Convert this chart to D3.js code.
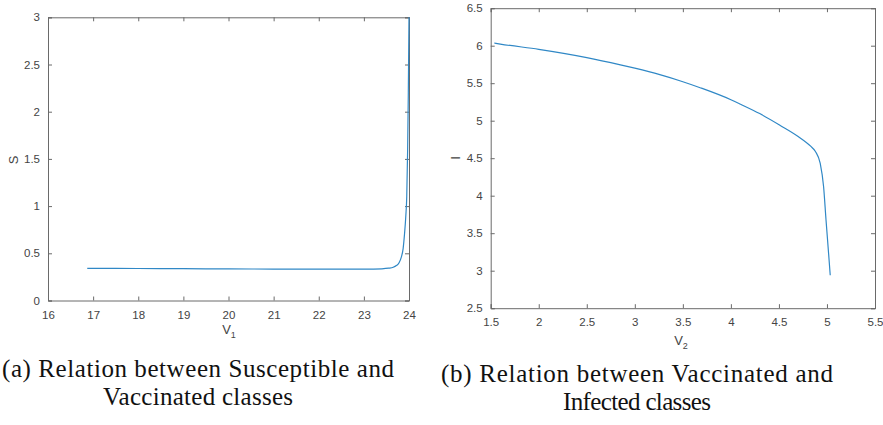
<!DOCTYPE html>
<html>
<head>
<meta charset="utf-8">
<script src="https://cdn.jsdelivr.net/npm/d3@7"></script>
<style>
  body { margin: 0; background: #fff; }
  .tick text { font-family: "Liberation Sans", Arial, sans-serif; font-size: 11.5px; fill: #444; }
  .axlabel { font-family: "Liberation Sans", Arial, sans-serif; font-size: 13px; fill: #444; }
  .caption { font-family: "Liberation Serif", "DejaVu Serif", serif; font-size: 25px; fill: #111; }
</style>
</head>
<body>
<div id="fig"></div>
<script>
// panel (a): S against V1
var v1 = [16.87, 17.5, 18, 19, 20, 21, 22, 23, 23.4, 23.55, 23.65, 23.72, 23.78, 23.83, 23.87, 23.9, 23.93, 23.95, 23.97, 23.985, 24.0];
var sVals = [0.341, 0.340, 0.339, 0.337, 0.335, 0.333, 0.332, 0.333, 0.336, 0.342, 0.352, 0.37, 0.40, 0.46, 0.55, 0.70, 0.90, 1.10, 1.60, 2.20, 3.0];

// panel (b): I against V2
var v2 = [1.537, 1.6, 2.0, 2.5, 2.85, 3.0, 3.26, 3.5, 3.68, 4.0, 4.1, 4.3, 4.51, 4.7, 4.83, 4.88, 4.93, 4.965, 4.99, 5.017, 5.034];
var iVals = [6.036, 6.022, 5.952, 5.842, 5.745, 5.70, 5.614, 5.52, 5.44, 5.28, 5.22, 5.095, 4.94, 4.79, 4.66, 4.59, 4.43, 4.12, 3.68, 3.23, 2.94];

var ticksA_x = [16, 17, 18, 19, 20, 21, 22, 23, 24];
var ticksA_y = [0, 0.5, 1, 1.5, 2, 2.5, 3];
var ticksB_x = [1.5, 2, 2.5, 3, 3.5, 4, 4.5, 5, 5.5];
var ticksB_y = [2.5, 3, 3.5, 4, 4.5, 5, 5.5, 6, 6.5];

var captionA = ["(a) Relation between Susceptible and", "Vaccinated classes"];
var captionB = ["(b) Relation between Vaccinated and", "Infected classes"];

var boxColor = "#6a6a6a",
    lineColor = "#3088c6";

var svg = d3.select("#fig").append("svg")
  .attr("width", 883)
  .attr("height", 425);

function panel(opt) {
  var x = d3.scaleLinear().domain(opt.xdom).range([opt.left, opt.right]);
  var y = d3.scaleLinear().domain(opt.ydom).range([opt.bottom, opt.top]);
  var g = svg.append("g");
  var fmt = function (d) { return d3.format("")(d); };

  // bottom axis, ticks pointing inward
  var xb = g.append("g")
    .attr("transform", "translate(0," + opt.bottom + ")")
    .call(d3.axisBottom(x).tickValues(opt.xticks).tickSize(-4).tickPadding(10).tickFormat(fmt));
  // top axis, ticks only
  var xt = g.append("g")
    .attr("transform", "translate(0," + opt.top + ")")
    .call(d3.axisTop(x).tickValues(opt.xticks).tickSize(-4).tickFormat(""));
  // left axis
  var yl = g.append("g")
    .attr("transform", "translate(" + opt.left + ",0)")
    .call(d3.axisLeft(y).tickValues(opt.yticks).tickSize(-4).tickPadding(8).tickFormat(fmt));
  // right axis, ticks only
  var yr = g.append("g")
    .attr("transform", "translate(" + opt.right + ",0)")
    .call(d3.axisRight(y).tickValues(opt.yticks).tickSize(-4).tickFormat(""));

  [xb, xt, yl, yr].forEach(function (a) {
    a.select(".domain").attr("stroke", boxColor);
    a.selectAll(".tick line").attr("stroke", boxColor);
  });

  var line = d3.line()
    .x(function (d) { return x(d[0]); })
    .y(function (d) { return y(d[1]); })
    .curve(d3.curveMonotoneX);

  g.append("path")
    .datum(d3.zip(opt.xs, opt.ys))
    .attr("fill", "none")
    .attr("stroke", lineColor)
    .attr("stroke-width", 1.2)
    .attr("d", line);

  // y label, rotated
  g.append("text")
    .attr("class", "axlabel")
    .attr("transform", "translate(" + opt.ylabX + "," + opt.ylabY + ") rotate(-90)")
    .attr("text-anchor", "middle")
    .text(opt.ylab);

  // x label with subscript
  var xl = g.append("text")
    .attr("class", "axlabel")
    .attr("x", opt.xlabX)
    .attr("y", opt.xlabY)
    .attr("text-anchor", "middle");
  xl.append("tspan").text("V");
  xl.append("tspan").attr("dy", 4).attr("font-size", "9px").text(opt.xsub);

  // caption (Computer Modern is wider than the installed serif, so stretch)
  g.selectAll("text.caption")
    .data(opt.caption)
    .enter().append("text")
    .attr("class", "caption")
    .attr("x", opt.capX)
    .attr("y", function (d, i) { return opt.capY + i * 28; })
    .attr("text-anchor", "middle")
    .attr("textLength", function (d, i) { return opt.capW[i]; })
    .attr("lengthAdjust", "spacing")
    .text(function (d) { return d; });
}

panel({
  xs: v1, ys: sVals,
  xdom: [16, 24], ydom: [0, 3],
  left: 48, right: 409, top: 17.3, bottom: 300.5,
  xticks: ticksA_x, yticks: ticksA_y,
  ylab: "S", ylabX: 18, ylabY: 160,
  xsub: "1", xlabX: 229, xlabY: 334,
  caption: captionA, capX: 198, capY: 377, capW: [392, 190]
});

panel({
  xs: v2, ys: iVals,
  xdom: [1.5, 5.5], ydom: [2.5, 6.5],
  left: 490.7, right: 875, top: 8.2, bottom: 308.2,
  xticks: ticksB_x, yticks: ticksB_y,
  ylab: "I", ylabX: 460, ylabY: 158,
  xsub: "2", xlabX: 681, xlabY: 345,
  caption: captionB, capX: 637, capY: 382, capW: [392, 148]
});
</script>
</body>
</html>
